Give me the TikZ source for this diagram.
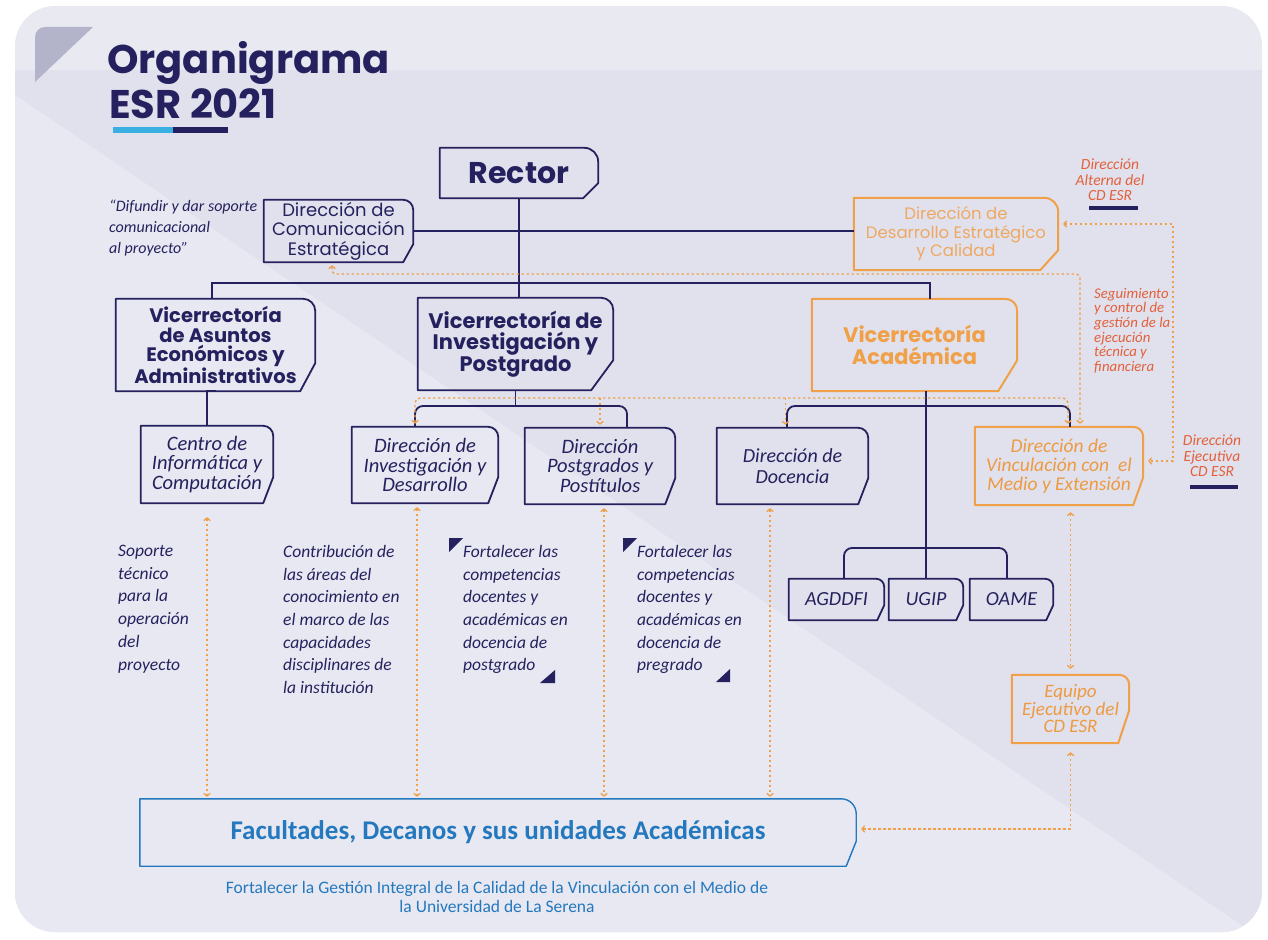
\documentclass[tikz,border=0pt]{standalone}
\usepackage{fontspec}
\setmainfont{Poppins}
\newfontfamily\carl{Carlito}
\usetikzlibrary{arrows.meta}
\definecolor{navy}{HTML}{25215E}
\definecolor{orgb}{HTML}{F0A048}
\definecolor{orgt}{HTML}{EE9A42}
\definecolor{orgl}{HTML}{EFA862}
\definecolor{redt}{HTML}{E4603B}
\definecolor{bluet}{HTML}{2478BE}
\definecolor{bgmain}{HTML}{E0E1EC}
\definecolor{bglight}{HTML}{E7E8F1}
\definecolor{trig}{HTML}{B3B3CA}
\definecolor{lblue}{HTML}{3AAFE2}
\newcommand\fsz[2]{\fontsize{#1}{#2}\selectfont}
\newcommand\orgshape[5]{%
  \draw[#2] (#1.north west) -- ([xshift=-#3pt]#1.north east)
    arc[start angle=90,end angle=0,radius=#3pt]
    -- ([yshift=#5pt]#1.south east) -- ([xshift=-#4pt]#1.south east)
    -- (#1.south west) -- cycle;}
\begin{document}
\begin{tikzpicture}[x=1pt,y=-1pt,
  navyline/.style={draw=navy,line width=1.8pt,line join=round},
  orgline/.style={draw=orgb,line width=2pt,line join=round},
  blueline/.style={draw=bluet,line width=1.4pt,line join=round},
  conn/.style={draw=navy,line width=1.8pt},
  odot/.style={draw=orgb,line width=1.4pt,dash pattern=on 2.4pt off 2.6pt,
     >={Straight Barb[length=2.6pt,width=6.5pt,line width=1.3pt]}},
  bx/.style={inner sep=0pt,align=center},
  boldbox/.style={bx,text=navy,font=\bfseries\fsz{19.5}{19.5}},
  itbox/.style={bx,text=navy,font=\carl\itshape\fsz{20.5}{19.5}},
  notetxt/.style={inner sep=0pt,align=left,anchor=north west,text=navy,font=\carl\itshape\fsz{17.5}{22.7}},
  redtxt/.style={inner sep=0pt,align=center,text=redt,font=\carl\itshape\fsz{15.5}{15.5}},
]
\useasboundingbox (0,0) rectangle (1268,939);
% background
\fill[white] (0,0) rectangle (1268,939);
\begin{scope}
  \path[clip,rounded corners=40pt] (15,6) rectangle (1262,932);
  \fill[bgmain] (0,0) rectangle (1268,939);
  \fill[bglight] (15,95) -- (1262,939) -- (15,939) -- cycle;
\end{scope}
\fill[white,opacity=0.3] (0,0) rectangle (1268,70);
\fill[trig] (35,82) -- (35,37) arc[start angle=180,end angle=90,radius=10pt] -- (93,27) -- cycle;

% title
\node[anchor=base west,inner sep=0pt,text=navy,font=\bfseries\fsz{40}{40}] (t1) at (107,74) {Organigrama};
\node[anchor=base west,inner sep=0pt,text=navy,font=\bfseries\fsz{40}{40}] (t2) at (109,118) {ESR 2021};
\fill[lblue] (113,127) rectangle (173,133);
\fill[navy] (173,127) rectangle (228,133);

% nodes
\node[bx,text=navy,font=\bfseries\fsz{30}{30},minimum width=158pt,minimum height=50pt] (rector) at (519,173) {Rector};
\node[bx,text=navy,font=\fsz{18}{19.5},minimum width=149pt,minimum height=62pt] (com) at (338.5,231) {Dirección de\\Comunicación\\Estratégica};
\node[bx,text=orgl,font=\fsz{16.5}{18.5},minimum width=204pt,minimum height=72pt] (des) at (956,234) {Dirección de\\Desarrollo Estratégico\\y Calidad};
\node[boldbox,minimum width=199pt,minimum height=92pt] (vaea) at (215.5,345) {Vicerrectoría\\de Asuntos\\Económicos y\\Administrativos};
\node[boldbox,font=\bfseries\fsz{21}{21},minimum width=195pt,minimum height=92pt] (vip) at (515.5,344) {Vicerrectoría de\\Investigación y\\Postgrado};
\node[boldbox,text=orgb,font=\bfseries\fsz{21}{21.5},minimum width=205pt,minimum height=92pt] (vac) at (914.5,345) {Vicerrectoría\\Académica};
\node[itbox,minimum width=132pt,minimum height=77pt] (cic) at (207,464.5) {Centro de\\Informática y\\Computación};
\node[itbox,minimum width=146pt,minimum height=76pt] (did) at (425,465) {Dirección de\\Investigación y\\Desarrollo};
\node[itbox,minimum width=150pt,minimum height=76pt] (dpp) at (600,466) {Dirección\\Postgrados y\\Postítulos};
\node[itbox,font=\carl\itshape\fsz{20}{21},minimum width=151pt,minimum height=76pt] (ddo) at (792.5,466) {Dirección de\\Docencia};
\node[itbox,text=orgt,font=\carl\itshape\fsz{19.5}{19},minimum width=168pt,minimum height=78pt] (dvm) at (1059,466) {Dirección de\\Vinculación con\ \ el\\Medio y Extensión};
\node[itbox,font=\carl\itshape\fsz{20}{20},minimum width=95pt,minimum height=41pt] (agd) at (836.5,599.5) {AGDDFI};
\node[itbox,font=\carl\itshape\fsz{20}{20},minimum width=74pt,minimum height=41pt] (ugi) at (926,599.5) {UGIP};
\node[itbox,font=\carl\itshape\fsz{20}{20},minimum width=83pt,minimum height=41pt] (oam) at (1011.5,599.5) {OAME};
\node[itbox,text=orgt,font=\carl\itshape\fsz{19}{17.5},minimum width=117pt,minimum height=68pt] (eqp) at (1070.5,709) {Equipo\\Ejecutivo del\\CD ESR};
\node[bx,text=bluet,font=\carl\bfseries\fsz{27}{27},minimum width=716pt,minimum height=67pt] (fac) at (498,832.5) {Facultades, Decanos y sus unidades Académicas};

% shapes
\orgshape{rector}{navyline}{14}{15}{15}
\orgshape{com}{navyline}{10}{10}{18}
\orgshape{des}{orgline}{14}{18}{20}
\orgshape{vaea}{navyline}{12}{15}{28}
\orgshape{vip}{navyline}{12}{22}{30}
\orgshape{vac}{orgline}{12}{19}{31}
\orgshape{cic}{navyline}{10}{10}{26}
\orgshape{did}{navyline}{10}{10}{26}
\orgshape{dpp}{navyline}{10}{10}{26}
\orgshape{ddo}{navyline}{10}{10}{26}
\orgshape{dvm}{orgline}{10}{10}{28}
\orgshape{agd}{navyline}{8}{7}{15}
\orgshape{ugi}{navyline}{8}{7}{15}
\orgshape{oam}{navyline}{8}{7}{15}
\orgshape{eqp}{orgline}{10}{11}{33}
\orgshape{fac}{blueline}{15}{10}{25}

% texts
\node[notetxt,font=\carl\itshape\fsz{16}{21}] (quote) at (109,200) {“Difundir y dar soporte\\comunicacional\\al proyecto”};
\node[notetxt] (sop) at (118,545) {Soporte\\técnico\\para la\\operación\\del\\proyecto};
\node[notetxt] (con) at (283,545) {Contribución de\\las áreas del\\conocimiento en\\el marco de las\\capacidades\\disciplinares de\\la institución};
\node[notetxt] (fpo) at (463,545) {Fortalecer las\\competencias\\docentes y\\académicas en\\docencia de\\postgrado};
\node[notetxt] (fpr) at (637,545) {Fortalecer las\\competencias\\docentes y\\académicas en\\docencia de\\pregrado};
\fill[navy] (449,538) -- (463,538) -- (449,552) -- cycle;
\fill[navy] (540,683) -- (555,683) -- (555,670) -- cycle;
\fill[navy] (623,538) -- (637,538) -- (623,552) -- cycle;
\fill[navy] (716,682) -- (730,682) -- (730,669) -- cycle;
\node[redtxt] (alt) at (1110,180) {Dirección\\Alterna del\\CD ESR};
\fill[navy] (1089,206) rectangle (1138,210);
\node[redtxt] (eje) at (1212,456) {Dirección\\Ejecutiva\\CD ESR};
\fill[navy] (1190,485) rectangle (1238,489);
\node[redtxt,align=left,anchor=north west,font=\carl\itshape\fsz{14.8}{14.6}] (seg) at (1094,288) {Seguimiento\\y control de\\gestión de la\\ejecución\\técnica y\\financiera};
\node[inner sep=0pt,align=center,text=bluet,font=\carl\fsz{17.5}{19}] (sub) at (497,897) {Fortalecer la Gestión Integral de la Calidad de la Vinculación con el Medio de\\la Universidad de La Serena};

% coordinates
\coordinate (hb) at (517,283);
\coordinate (jv) at (517,406);
\coordinate (jv2) at (926,406);
\coordinate (ja) at (926,548);
\coordinate (dA) at (700,274);
\coordinate (dC) at (700,398);
\coordinate (xB) at (1173,224);
\coordinate (ddoN) at ([xshift=-7pt]ddo.north);
\coordinate (didS) at ([xshift=-8pt]did.south);
\coordinate (dppS) at ([xshift=4pt]dpp.south);
\coordinate (ddoS) at ([xshift=-22.5pt]ddo.south);

% navy connectors
\draw[conn] (rector.south) -- (rector.south |- vip.north);
\draw[conn] (com.east) -- (com.east -| des.west);
\draw[conn] ([xshift=-3.5pt]vaea.north) |- (hb) -| ([xshift=15.5pt]vac.north);
\draw[conn] (cic.north) |- (vaea.south);
\draw[conn] (vip.south) -- (vip.south |- jv);
\draw[conn,rounded corners=8pt] ([xshift=-10pt]did.north) |- (jv) -| ([xshift=27pt]dpp.north);
\draw[conn] (ugi.north |- vac.south) -- (ugi.north);
\draw[conn,rounded corners=8pt] ([xshift=-5.5pt]ddo.north) |- (jv2) -| ([xshift=11pt]dvm.north);
\draw[conn,rounded corners=8pt] ([xshift=7.5pt]agd.north) |- (ja) -| ([xshift=-4.5pt]oam.north);

% orange dotted connectors
\draw[odot,<->,rounded corners=4pt,shorten <=3pt,shorten >=3pt] ([xshift=-6.5pt]com.south) |- (dA) -| ([xshift=21pt]dvm.north);
\draw[odot,<->,shorten <=5pt,shorten >=5pt] ([yshift=10pt]des.east) -- (xB) |- ([yshift=5pt]dvm.east);
\draw[odot,<->,rounded corners=5pt,shorten <=3pt,shorten >=3pt] ([xshift=-10pt]did.north) |- (dC) -| ([xshift=9pt]dvm.north);
\draw[odot,->,shorten >=3pt] (dpp.north |- dC) -- (dpp.north);
\draw[odot,->,shorten >=3pt] (ddoN |- dC) -- (ddoN);
\draw[odot,<->,shorten <=14pt,shorten >=2pt] (cic.south) -- (cic.south |- fac.north);
\draw[odot,<->,shorten <=4pt,shorten >=2pt] (didS) -- (didS |- fac.north);
\draw[odot,<->,shorten <=4pt,shorten >=2pt] (dppS) -- (dppS |- fac.north);
\draw[odot,<->,shorten <=4pt,shorten >=2pt] (ddoS) -- (ddoS |- fac.north);
\draw[odot,<->,shorten <=7pt,shorten >=6pt] (eqp.north |- dvm.south) -- (eqp.north);
\draw[odot,<->,shorten <=9pt,shorten >=5pt] (eqp.south) |- ([yshift=3.5pt]fac.east);
\end{tikzpicture}
\end{document}
